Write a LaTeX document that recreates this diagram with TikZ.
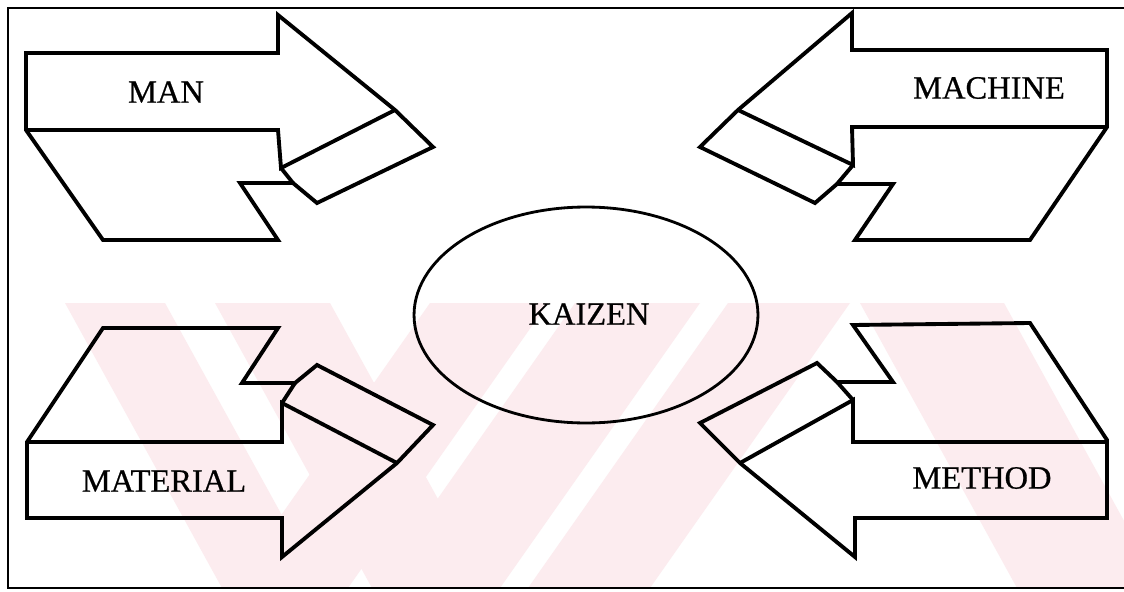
\documentclass[tikz,border=0pt]{standalone}
\usepackage{fontspec}
\setmainfont{Liberation Serif}
\newfontfamily\lblfont{Liberation Serif}[FakeBold=0.6]
\usetikzlibrary{shapes.geometric}
\definecolor{wmpink}{RGB}{252,236,239}
\begin{document}
\begin{tikzpicture}[x=0.02cm,y=-0.02cm,
  shapeline/.style={line width=2.2pt, line join=miter, miter limit=6},
  innerline/.style={line width=2.2pt, line join=miter, line cap=round},
  framer/.style={line width=1.4pt},
  lbl/.style={font=\lblfont\fontsize{18.5}{20}\selectfont, inner sep=0pt},
  band/.style={fill=wmpink, draw=none}]

\useasboundingbox (0,0) rectangle (1124,591);
\fill[white] (0,0) rectangle (1124,591);

% faint background stripes
\begin{scope}
  \clip (8,303) rectangle (1124,588);
  \fill[band] (65,303) -- (165,303) -- (322,588) -- (222,588) -- cycle;
  \fill[band] (215,303) -- (330,303) -- (487,588) -- (372,588) -- cycle;
  \fill[band] (430,303) -- (548,303) -- (348,588) -- (230,588) -- cycle;
  \fill[band] (575,303) -- (700,303) -- (500,588) -- (375,588) -- cycle;
  \fill[band] (728,303) -- (850,303) -- (650,588) -- (528,588) -- cycle;
  \fill[band] (860,303) -- (1004,303) -- (1161,588) -- (1017,588) -- cycle;
\end{scope}

% frame
\draw[framer] (1124,8) -- (8,8) -- (8,588) -- (1124,588);

% MAN arrow (upper left)
\draw[shapeline] (26,53) -- (278,53) -- (278,15) -- (395,110) -- (433,147)
  -- (317,203) -- (293,183) -- (240,183) -- (278,240) -- (103,240) -- (26,130) -- cycle;
\draw[innerline] (26,130) -- (278,130) -- (281,168) -- (395,110);
\draw[innerline] (281,168) -- (293,183);

% MACHINE arrow (upper right)
\draw[shapeline] (1107,50) -- (852,50) -- (852,13) -- (738,110) -- (700,147)
  -- (815,203) -- (837,184) -- (893,184) -- (855,240) -- (1030,240) -- (1107,127) -- cycle;
\draw[innerline] (1107,127) -- (852,127) -- (853,165) -- (738,110);
\draw[innerline] (853,165) -- (837,184);

% MATERIAL arrow (lower left)
\draw[shapeline] (27,442) -- (103,328) -- (278,328) -- (242,383) -- (295,383)
  -- (317,365) -- (433,425) -- (397,463) -- (282,557) -- (282,518) -- (27,518) -- cycle;
\draw[innerline] (27,442) -- (282,442) -- (282,403) -- (397,463);
\draw[innerline] (282,403) -- (295,383);

% METHOD arrow (lower right)
\draw[shapeline] (853,325) -- (1030,323) -- (1107,440) -- (1107,518) -- (855,518)
  -- (855,557) -- (740,463) -- (700,423) -- (817,363) -- (837,382) -- (893,382) -- cycle;
\draw[innerline] (1107,442) -- (853,442) -- (853,400) -- (740,463);
\draw[innerline] (853,400) -- (837,382);

% central ellipse
\node[ellipse, draw, line width=1.6pt, minimum width=6.88cm, minimum height=4.32cm,
      inner sep=0pt] (kaizen) at (586,315) {};
\node[lbl] (kaizenlbl) at (589,314) {KAIZEN};

% labels
\node[lbl] (man) at (166,92) {MAN};
\node[lbl] (machine) at (989,88) {MACHINE};
\node[lbl] (material) at (164,481) {MATERIAL};
\node[lbl] (method) at (982,478) {METHOD};
\end{tikzpicture}
\end{document}
